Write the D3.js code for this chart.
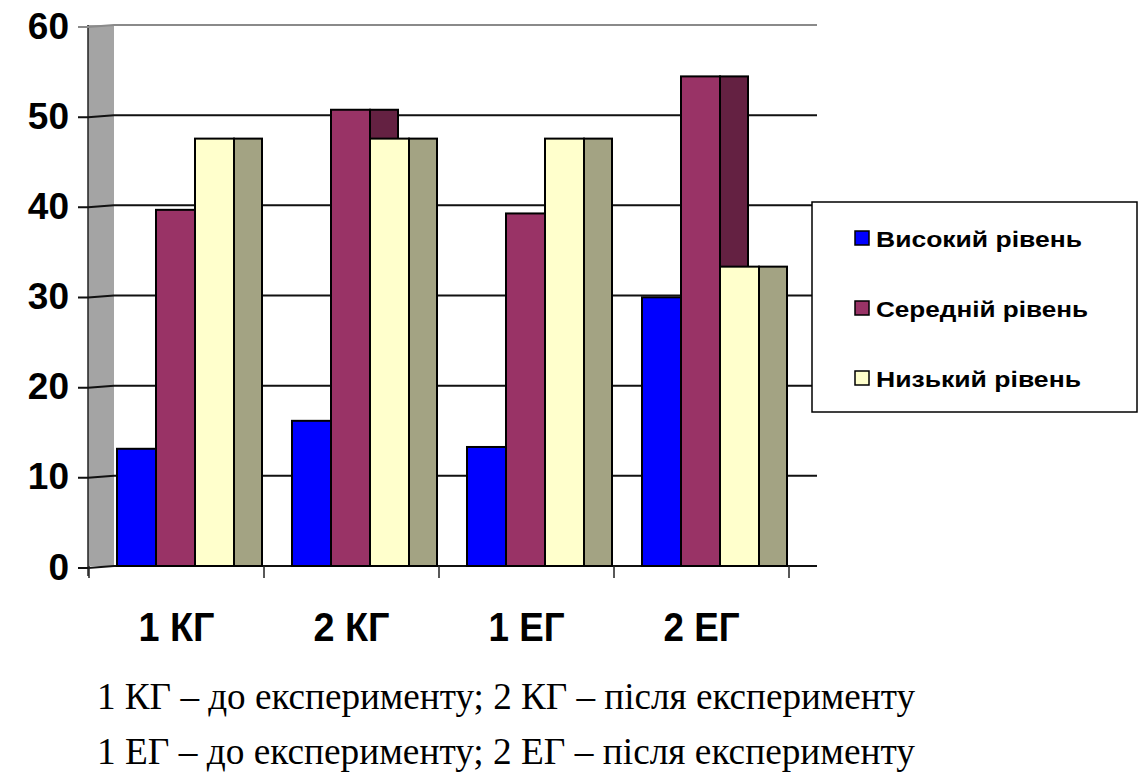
<!DOCTYPE html>
<html>
<head>
<meta charset="utf-8">
<script src="https://cdn.jsdelivr.net/npm/d3@7/dist/d3.min.js"></script>
<style>
  html, body { margin: 0; padding: 0; background: #fff; }
  svg { display: block; }
</style>
</head>
<body>
<svg id="chart" width="1142" height="773"></svg>
<script>
// Groups along the x axis
const categories = ["1 КГ", "2 КГ", "1 ЕГ", "2 ЕГ"];
// Series (levels), in drawing order left to right inside each group
const seriesNames = ["Високий рівень", "Середній рівень", "Низький рівень"];
// Percentages per series, one value per group
const highLevel   = [13.0, 16.1, 13.2, 29.8];
const middleLevel = [39.5, 50.6, 39.1, 54.3];
const lowLevel    = [47.4, 47.4, 47.4, 33.2];
// Y axis ticks
const yTicks = [0, 10, 20, 30, 40, 50, 60];
// Explanatory notes under the chart
const notes = [
  "1 КГ – до експерименту; 2 КГ – після експерименту",
  "1 ЕГ – до експерименту; 2 ЕГ – після експерименту"
];

const seriesValues = [highLevel, middleLevel, lowLevel];
const frontColors = ["#0000FF", "#993366", "#FFFFCC"];
const sideColors  = ["#00009C", "#642142", "#A3A383"];

const svg = d3.select("#chart");

const y = d3.scaleLinear().domain([0, 60]).range([566, 25]);
const x = d3.scaleBand().domain(categories).range([89, 789]).padding(0);
const xs = d3.scaleBand().domain(seriesNames).range([28, 28 + 117]).padding(0);
const depth = 28;

const wallLeft = 88, wallRight = 114, gridRight = 817, slant = 2;

// Side wall of the 3D plot
svg.append("rect")
  .attr("x", wallLeft).attr("y", y(60))
  .attr("width", wallRight - wallLeft).attr("height", y(0) - y(60))
  .attr("fill", "#A4A4A4");
svg.append("line")
  .attr("x1", wallLeft).attr("x2", wallLeft)
  .attr("y1", y(60)).attr("y2", y(0) + 10)
  .attr("stroke", "#222").attr("stroke-width", 1.5);

// Gridlines (run over the wall with a slight perspective slant)
svg.append("g").selectAll("path")
  .data(yTicks)
  .join("path")
  .attr("d", d => `M${wallLeft - 10},${y(d) + slant}L${wallLeft},${y(d) + slant}L${wallRight},${y(d)}L${gridRight},${y(d)}`)
  .attr("fill", "none")
  .attr("stroke", d => d === 60 ? "#8a8a8a" : "#111")
  .attr("stroke-width", 2);

// Category tick marks under the floor
svg.append("g").selectAll("line")
  .data([...categories.map(c => x(c)), x(categories[categories.length - 1]) + x.bandwidth()])
  .join("line")
  .attr("x1", d => d).attr("x2", d => d)
  .attr("y1", y(0)).attr("y2", y(0) + 12)
  .attr("stroke", "#222").attr("stroke-width", 1.5);

// Bars: each drawn as side face then front face, left to right
const bars = svg.append("g");
categories.forEach((cat, ci) => {
  seriesNames.forEach((s, si) => {
    const v = seriesValues[si][ci];
    const x0 = x(cat) + xs(s);
    const w = xs.bandwidth();
    bars.append("rect")
      .attr("x", x0 + w).attr("y", y(v))
      .attr("width", depth).attr("height", y(0) - y(v))
      .attr("fill", sideColors[si])
      .attr("stroke", "#000").attr("stroke-width", 2);
    bars.append("rect")
      .attr("x", x0).attr("y", y(v))
      .attr("width", w).attr("height", y(0) - y(v))
      .attr("fill", frontColors[si])
      .attr("stroke", "#000").attr("stroke-width", 2);
  });
});

// Y axis labels
svg.append("g").selectAll("text")
  .data(yTicks)
  .join("text")
  .attr("x", 69).attr("y", d => y(d) + 1)
  .attr("text-anchor", "end")
  .attr("dominant-baseline", "central")
  .attr("font-family", "Liberation Sans, Arial, sans-serif")
  .attr("font-weight", "bold")
  .attr("font-size", 37)
  .attr("fill", "#000")
  .text(d => d);

// Category labels
svg.append("g").selectAll("text")
  .data(categories)
  .join("text")
  .attr("x", d => x(d) + x.bandwidth() / 2)
  .attr("y", 641)
  .attr("text-anchor", "middle")
  .attr("font-family", "Liberation Sans, Arial, sans-serif")
  .attr("font-weight", "bold")
  .attr("font-size", 40)
  .attr("textLength", 76)
  .attr("lengthAdjust", "spacingAndGlyphs")
  .attr("fill", "#000")
  .text(d => d);

// Legend
const legend = svg.append("g");
legend.append("rect")
  .attr("x", 812).attr("y", 202).attr("width", 325).attr("height", 210)
  .attr("fill", "#fff").attr("stroke", "#000").attr("stroke-width", 1.5);
const legendY = d3.scalePoint().domain(seriesNames).range([238, 378]);
const legendWidths = [206, 212, 205];
seriesNames.forEach((s, i) => {
  legend.append("rect")
    .attr("x", 855).attr("y", legendY(s) - 7)
    .attr("width", 14).attr("height", 14)
    .attr("fill", frontColors[i]).attr("stroke", "#000").attr("stroke-width", 1.5);
  legend.append("text")
    .attr("x", 876).attr("y", legendY(s) + 1)
    .attr("dominant-baseline", "central")
    .attr("font-family", "Liberation Sans, Arial, sans-serif")
    .attr("font-weight", "bold")
    .attr("font-size", 22)
    .attr("textLength", legendWidths[i])
    .attr("lengthAdjust", "spacingAndGlyphs")
    .attr("fill", "#000")
    .text(s);
});

// Notes under the chart
svg.append("g").selectAll("text")
  .data(notes)
  .join("text")
  .attr("x", 97).attr("y", (d, i) => 709 + i * 55)
  .attr("font-family", "Liberation Serif, Times New Roman, serif")
  .attr("font-size", 38)
  .attr("textLength", 818)
  .attr("lengthAdjust", "spacingAndGlyphs")
  .attr("fill", "#000")
  .text(d => d);
</script>
</body>
</html>
